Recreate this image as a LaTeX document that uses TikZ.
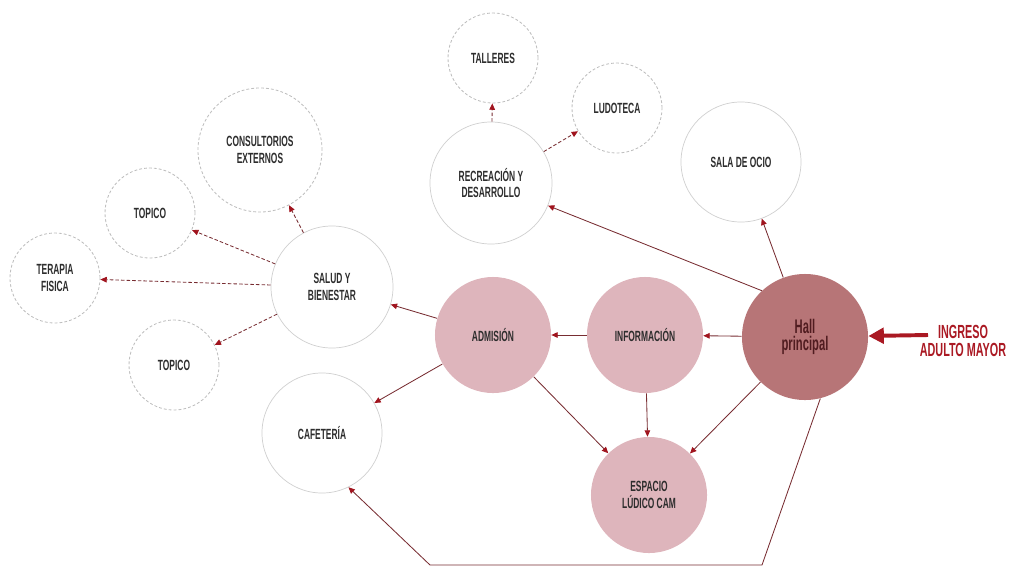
\documentclass[tikz,border=0pt]{standalone}
\usepackage{fontspec}
\usepackage{xcolor}
\usepackage{tikz}
\usetikzlibrary{arrows.meta}
\newfontfamily\labelfont{Liberation Sans}[FakeStretch=0.57]
\definecolor{hlrose}{RGB}{183,117,119}
\definecolor{hlpink}{RGB}{222,181,188}
\definecolor{hlring}{RGB}{208,208,208}
\definecolor{hldash}{RGB}{190,190,190}
\definecolor{hlline}{RGB}{120,45,50}
\definecolor{hlred}{RGB}{160,20,30}
\definecolor{hlcrimson}{RGB}{170,25,35}
\definecolor{hltext}{RGB}{45,45,45}
\definecolor{hlbrown}{RGB}{80,28,32}
\tikzset{
  room/.style={circle,draw=hlring,line width=0.5pt,fill=white,inner sep=0pt,align=center,text=hltext,font=\labelfont\bfseries\fontsize{10.5}{12}\selectfont},
  subroom/.style={room,draw=hldash,dash pattern=on 2pt off 1.5pt,line width=0.6pt},
  core/.style={room,draw=none,fill=hlpink},
  link/.style={-{Triangle[length=4.5pt,width=4pt,color=hlred]},line width=0.6pt,draw=hlline},
  sublink/.style={link,dash pattern=on 2.5pt off 1.5pt},
}
\begin{document}
\begin{tikzpicture}[x=0.025cm,y=-0.025cm]
  \useasboundingbox (0,0) rectangle (1013,567);
  \node[core,fill=hlrose,minimum size=3.15cm,text=hlbrown,font=\labelfont\bfseries\fontsize{14}{12.5}\selectfont] (hall) at (805,337) {Hall\\principal};
  \node[core,minimum size=2.9cm] (info) at (645,335) {INFORMACIÓN};
  \node[core,minimum size=2.9cm] (adm) at (493,335) {ADMISIÓN};
  \node[core,minimum size=2.9cm] (esp) at (649,495) {ESPACIO\\LÚDICO CAM};
  \node[room,minimum size=3cm] (cafe) at (322,433) {CAFETERÍA};
  \node[room,minimum size=3.05cm] (salud) at (332,287) {SALUD Y\\BIENESTAR};
  \node[room,minimum size=3.05cm] (rec) at (491,183) {RECREACIÓN Y\\DESARROLLO};
  \node[room,minimum size=3cm] (sala) at (741,162) {SALA DE OCIO};
  \node[subroom,minimum size=3.1cm] (cons) at (260,150) {CONSULTORIOS\\EXTERNOS};
  \node[subroom,minimum size=2.25cm] (top1) at (150,213) {TOPICO};
  \node[subroom,minimum size=2.25cm] (ter) at (55,278) {TERAPIA\\FISICA};
  \node[subroom,minimum size=2.25cm] (top2) at (174,365) {TOPICO};
  \node[subroom,minimum size=2.25cm] (tall) at (493,58) {TALLERES};
  \node[subroom,minimum size=2.25cm] (ludo) at (617,108) {LUDOTECA};
  \node[align=center,text=hlcrimson,font=\labelfont\bfseries\fontsize{13.5}{12.8}\selectfont] (ingreso) at (963,341) {INGRESO\\ADULTO MAYOR};

  \coordinate (entrada) at (928,335);
  \draw[-{Triangle[length=11pt,width=11pt]},line width=2.8pt,draw=hlcrimson] (entrada) -- (hall);

  \draw[link] (hall) -- (info);
  \draw[link] (info) -- (adm);
  \draw[link] (adm) -- (salud);
  \draw[link] (adm) -- (cafe);
  \draw[link] (adm) -- (esp);
  \draw[link] (info) -- (esp);
  \draw[link] (hall) -- (esp);
  \draw[link] (hall.133) -- (rec);
  \draw[link] (hall) -- (sala);
  \coordinate (b1) at (762,565);
  \coordinate (b2) at (430,565);
  \draw[link] (hall.-76) -- (b1) -- (b2) -- (cafe.-64);

  \draw[sublink] (salud) -- (cons);
  \draw[sublink] (salud) -- (top1);
  \draw[sublink] (salud) -- (ter);
  \draw[sublink] (salud) -- (top2);
  \draw[sublink] (rec) -- (tall);
  \draw[sublink] (rec) -- (ludo);
\end{tikzpicture}
\end{document}
